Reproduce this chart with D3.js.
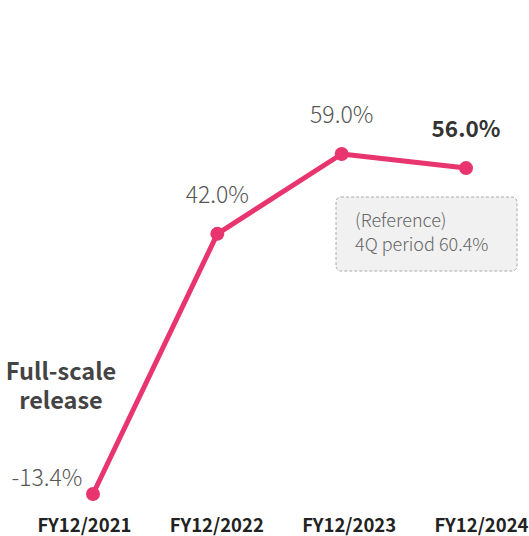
<!DOCTYPE html>
<html>
<head>
<meta charset="utf-8">
<script src="https://cdn.jsdelivr.net/npm/d3@7"></script>
<style>
  html, body { margin: 0; padding: 0; background: #fff; }
  svg { display: block; }
  text { font-family: "Noto Sans CJK JP", "Noto Sans", sans-serif; }
</style>
</head>
<body>
<svg id="chart" width="529" height="536"></svg>
<script>
// Fiscal years and growth rate (%)
const years = ["FY12/2021", "FY12/2022", "FY12/2023", "FY12/2024"];
const growth = [-13.4, 42.0, 59.0, 56.0];
const valueLabels = ["-13.4%", "42.0%", "59.0%", "56.0%"];
const noteLines = ["(Reference)", "4Q period 60.4%"];
const releaseLines = ["Full-scale", "release"];

const svg = d3.select("#chart");
const lineColor = "#e8346f";

// Marker positions and axis label positions
const x = d3.scalePoint().domain(years).range([93, 466]);
const xLabel = d3.scalePoint().domain(years).range([84, 481]);
const y = d3.scaleLinear().domain([-13.4, 59.0]).range([494, 154]);

// Category labels along the bottom
const axis = svg.append("g")
  .attr("transform", "translate(0,514)")
  .call(d3.axisBottom(xLabel).tickSize(0).tickPadding(0));
axis.select(".domain").remove();
axis.selectAll("text")
  .attr("dy", "0")
  .attr("y", 18)
  .attr("fill", "#222")
  .style("font-size", "18.5px")
  .style("font-weight", "700")
  .style("font-family", "'Noto Sans CJK JP', sans-serif");

// Reference note box
const box = svg.append("g");
box.append("rect")
  .attr("x", 336).attr("y", 197)
  .attr("width", 181).attr("height", 74)
  .attr("rx", 5)
  .attr("fill", "#f1f1f1")
  .attr("stroke", "#aaa")
  .attr("stroke-width", 1)
  .attr("stroke-dasharray", "3,2");
box.selectAll("text").data(noteLines).join("text")
  .attr("x", 355)
  .attr("y", (d, i) => 227 + i * 24)
  .attr("fill", "#666")
  .style("font-size", "18px")
  .style("font-weight", "300")
  .text(d => d);

// Growth line
const pts = years.map((yr, i) => ({ yr, v: growth[i], label: valueLabels[i] }));
svg.append("path")
  .datum(pts)
  .attr("fill", "none")
  .attr("stroke", lineColor)
  .attr("stroke-width", 5)
  .attr("stroke-linejoin", "round")
  .attr("d", d3.line().x(d => x(d.yr)).y(d => y(d.v)));

svg.selectAll("circle.pt").data(pts).join("circle")
  .attr("class", "pt")
  .attr("cx", d => x(d.yr))
  .attr("cy", d => y(d.v))
  .attr("r", 7)
  .attr("fill", lineColor);

// Value labels
const labelPos = [
  { dx: -46, dy: -8, bold: false },
  { dx: 0, dy: -31, bold: false },
  { dx: 0, dy: -31, bold: false },
  { dx: 0, dy: -31, bold: true }
];
svg.selectAll("text.val").data(pts).join("text")
  .attr("class", "val")
  .attr("x", (d, i) => x(d.yr) + labelPos[i].dx)
  .attr("y", (d, i) => y(d.v) + labelPos[i].dy)
  .attr("text-anchor", "middle")
  .attr("fill", (d, i) => labelPos[i].bold ? "#333" : "#555")
  .style("font-size", (d, i) => labelPos[i].bold ? "22.5px" : "23px")
  .style("font-weight", (d, i) => labelPos[i].bold ? "700" : "300")
  .text(d => d.label);

// Launch annotation
svg.selectAll("text.rel").data(releaseLines).join("text")
  .attr("class", "rel")
  .attr("x", 61)
  .attr("y", (d, i) => 380 + i * 29)
  .attr("text-anchor", "middle")
  .attr("fill", "#444")
  .style("font-size", "23.5px")
  .style("font-weight", "700")
  .text(d => d);
</script>
</body>
</html>
